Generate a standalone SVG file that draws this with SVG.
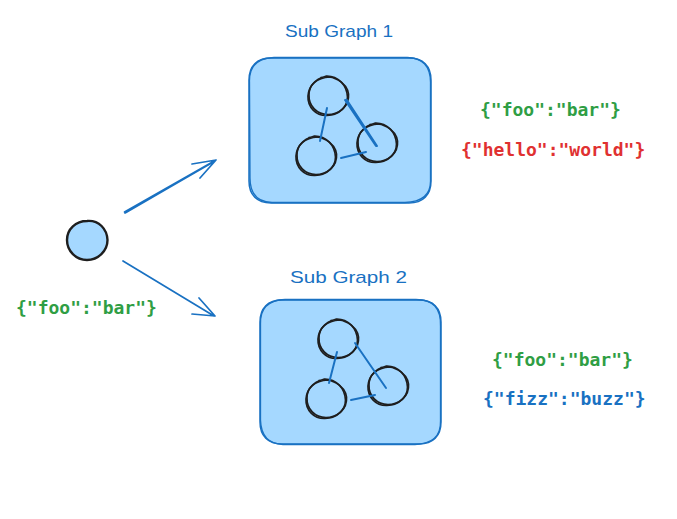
<svg xmlns="http://www.w3.org/2000/svg" width="677" height="519" viewBox="0 0 677 519">
<style>
.box{fill:#a5d8ff;stroke:#1971c2;stroke-width:1.500}
.over{fill:none;stroke:#1971c2;stroke-width:1.300}
.ring{fill:none;stroke:#1e1e1e;stroke-width:1.700;stroke-linecap:round}
.edge,.arrow{fill:none;stroke:#1971c2;stroke-linecap:round;stroke-linejoin:round}
.edge{stroke-width:2}
.arrow{stroke-width:1.700}
.title{font-family:"Liberation Sans",Arial,sans-serif;font-size:17px;fill:#1971c2}
.code{font-family:"DejaVu Sans Mono","Liberation Mono",monospace;font-weight:bold;font-size:18px}
.green{fill:#2f9e44}.red{fill:#e03131}.blue{fill:#1971c2}
</style>
<rect width="677" height="519" fill="#ffffff"/>
<defs>
<g id="ring">
<path class="ring" d="M-7 -18.500C4 -21.500 19 -14 20.500 -2C21.500 10 11 19 -1 19.500C-12 20 -20.500 11 -20 0C-19.500 -9 -13 -17 -3 -19.500"/>
<path class="ring" d="M-2 -20C10 -20.500 19 -11 19.500 1C19.500 12 10 18.500 0 18.500C-11 18.500 -19.500 10 -19 -1C-19 -11 -12 -18 2 -19"/>
</g>
</defs>
<g id="connectors">
<path class="arrow" d="M125 213L215 161M126 212.500L214 161.500M124.500 212L216 160M192 164L216 160L200 178"/>
<path class="arrow" d="M123 261L214 316M199 298L215 316L192 314"/>
</g>
<g id="source-node">
<path d="M87 221C99 220 107 229 107.500 240C107.500 251 98 260 87 260C76 260 67 251 67 240C67 229 76 221 87 221Z" fill="#a5d8ff" stroke="#1e1e1e" stroke-width="2.400"/>
<text class="code green" x="16" y="314">{"foo":"bar"}</text>
</g>
<g id="sub-graph-1">
<text class="title" x="285" y="37" textLength="108" lengthAdjust="spacingAndGlyphs">Sub Graph 1</text>
<path class="box" d="M271 58H409C423 58 431 66 431 80V181C431 195 423 203 409 203H271C257 203 249 195 249 181V80C249 66 257 58 271 58Z"/>
<path class="over" d="M249.500 82C249 65 258 58 274 57.500H406C422 57 431 66 430.500 84V180C431 196 421 202 405 202.500H272C258 202 250 194 250 178Z"/>
<use href="#ring" x="328" y="96"/>
<use href="#ring" x="316" y="156"/>
<use href="#ring" x="377" y="143"/>
<path class="edge" d="M327 108L320 141M341 158L366 152M345 100L376 146M346.500 99.500L377 146"/>
</g>
<g id="sub-graph-2">
<text class="title" x="290" y="283" textLength="117" lengthAdjust="spacingAndGlyphs">Sub Graph 2</text>
<path class="box" d="M282 300H419C433 300 441 308 441 322V422C441 436 433 444 419 444H282C268 444 260 436 260 422V322C260 308 268 300 282 300Z"/>
<path class="over" d="M260.500 324C260 307 269 300 285 299.500H416C433 299.500 441 308 440.500 326V421C441 437 431 444 415 444.500H283C269 444 261 436 260.500 420Z"/>
<use href="#ring" x="338" y="339"/>
<use href="#ring" x="326" y="399"/>
<use href="#ring" x="388" y="386"/>
<path class="edge" d="M337 352L329 383M351 400L375 395M355 343L386 388"/>
</g>
<g id="labels">
<text class="code green" x="480" y="116">{"foo":"bar"}</text>
<text class="code red" x="461" y="156">{"hello":"world"}</text>
<text class="code green" x="492" y="366">{"foo":"bar"}</text>
<text class="code blue" x="483" y="405">{"fizz":"buzz"}</text>
</g>
</svg>
